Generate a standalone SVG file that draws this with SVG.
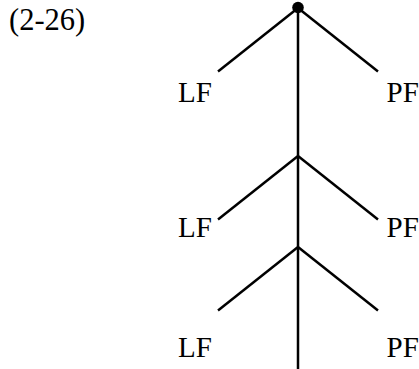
<svg xmlns="http://www.w3.org/2000/svg" width="419" height="369" viewBox="0 0 419 369">
<style>
.lbl{font-family:"Liberation Serif","Times New Roman",serif;font-size:29px;fill:#000}
.ln{stroke:#000;stroke-width:2.5;fill:none;stroke-linecap:butt}
</style>
<rect width="419" height="369" fill="#fff"/>
<text class="lbl" x="9" y="30" style="font-size:30.5px">(2-26)</text>
<g id="connectors">
<line class="ln" x1="298" y1="8" x2="298" y2="369"/>
<line class="ln" x1="298" y1="8" x2="218" y2="71.5"/>
<line class="ln" x1="298" y1="8" x2="378" y2="71.5"/>
<line class="ln" x1="298" y1="156" x2="218" y2="219.5"/>
<line class="ln" x1="298" y1="156" x2="378" y2="219.5"/>
<line class="ln" x1="298" y1="247" x2="218" y2="310.5"/>
<line class="ln" x1="298" y1="247" x2="378" y2="310.5"/>
</g>
<g id="root"><circle cx="298" cy="7.5" r="5.8" fill="#000"/></g>
<g id="lf1"><text class="lbl" x="178" y="101.7">LF</text></g>
<g id="pf1"><text class="lbl" x="386.5" y="101.7">PF</text></g>
<g id="lf2"><text class="lbl" x="178" y="237.3">LF</text></g>
<g id="pf2"><text class="lbl" x="386.5" y="237.3">PF</text></g>
<g id="lf3"><text class="lbl" x="178" y="357.3">LF</text></g>
<g id="pf3"><text class="lbl" x="386.5" y="357.3">PF</text></g>
</svg>
